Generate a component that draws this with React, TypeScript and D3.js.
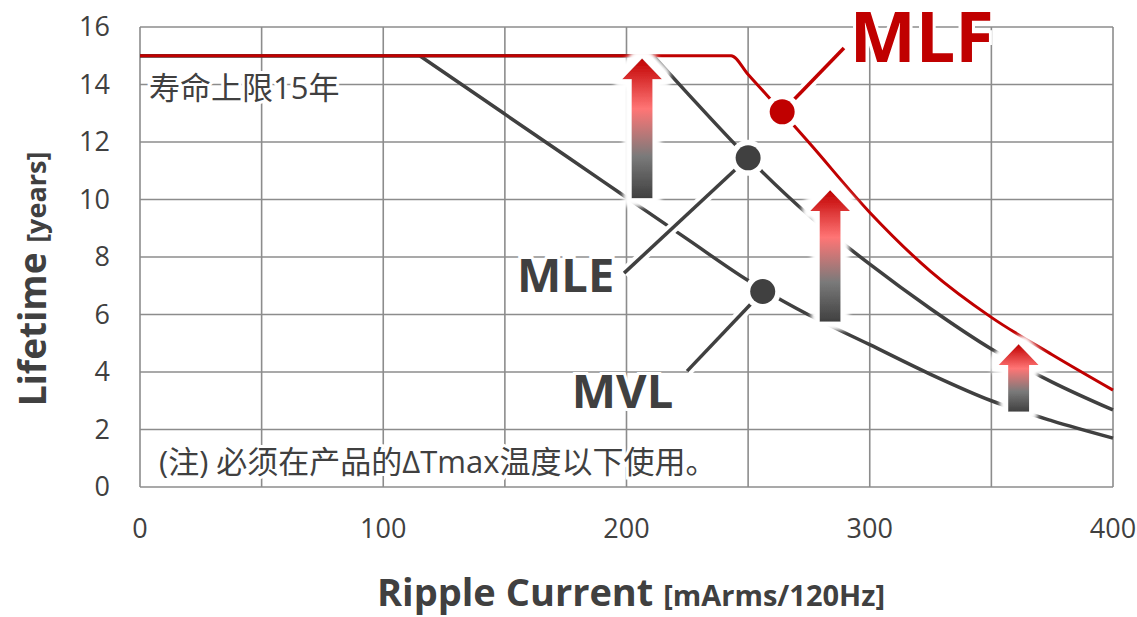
import * as d3 from "d3";

const W = 1137;
const H = 617;

// axes
const yTicks = [0, 2, 4, 6, 8, 10, 12, 14, 16];
const xTicks = [0, 100, 200, 300, 400];
const xGrid = [0, 50, 100, 150, 200, 250, 300, 350, 400];

// lifetime curves [ripple mA, years]
const mvl: [number, number][] = [
  [0, 15], [115, 15], [150, 12.97], [175, 11.52], [200, 10.07],
  [225, 8.62], [250, 7.18], [275, 5.98], [300, 4.95], [325, 3.92], [350, 3.0],
  [375, 2.3], [400, 1.7],
];
const mle: [number, number][] = [
  [0, 15], [211, 15], [225, 13.7], [250, 11.45], [275, 9.45],
  [300, 7.75], [325, 6.2], [350, 4.8], [375, 3.65], [400, 2.68],
];
const mlf: [number, number][] = [
  [0, 15], [243, 15], [250, 14.35], [275, 11.98], [300, 9.55], [325, 7.5],
  [350, 5.9], [375, 4.6], [400, 3.37],
];

// markers on curves + leader ends + labels
const callouts = [
  { name: "MLF", dot: [264, 13.05], end: [289.4, 15.27], label: [291.8, 14.78], size: 70, color: "#c00000" },
  { name: "MLE", dot: [250, 11.45], end: [199, 7.44], label: [155, 6.78], size: 47, color: "#404040" },
  { name: "MVL", dot: [256, 6.8], end: [224.9, 4.03], label: [177.5, 2.75], size: 47, color: "#404040" },
];

// improvement arrows [x, from, to]
const arrows = [
  { x: 206.4, from: 10.04, to: 14.91 },
  { x: 283.7, from: 5.75, to: 10.33 },
  { x: 361.2, from: 2.62, to: 4.97 },
];

const x = d3.scaleLinear().domain([0, 400]).range([140, 1113]);
const y = d3.scaleLinear().domain([0, 16]).range([487, 27]);

const smooth = d3
  .line<[number, number]>()
  .x((d) => x(d[0]))
  .y((d) => y(d[1]))
  .curve(d3.curveMonotoneX);

// flat cap drawn straight, then a smooth fall-off from the knee (sharp corner)
function kneePath(data: [number, number][]) {
  const k = data.findIndex((d) => d[1] < 15) - 1;
  const rest = smooth(data.slice(k)) ?? "";
  return `M${x(data[0][0])},${y(data[0][1])}` + rest.replace(/^M/, "L");
}

const latin = "'Open Sans', 'Noto Sans CJK SC', sans-serif";
const dark = "#404040";
const gridColor = "#8c8c8c";

function arrowPath(a: { x: number; from: number; to: number }) {
  const cx = x(a.x);
  const yb = y(a.from);
  const yt = y(a.to);
  const bw = 10.5, hw = 20, hh = 21;
  return `M${cx - bw},${yb}L${cx - bw},${yt + hh}L${cx - hw},${yt + hh}L${cx},${yt}L${cx + hw},${yt + hh}L${cx + bw},${yt + hh}L${cx + bw},${yb}Z`;
}

export default function App() {
  return (
    <svg
      width={W}
      height={H}
      style={{ position: "absolute", left: 0, top: 0, background: "#fff" }}
    >
      <defs>
        <linearGradient id="arrowGrad" x1="0" y1="0" x2="0" y2="1">
          <stop offset="0" stopColor="#c00000" />
          <stop offset="0.36" stopColor="#ff7575" />
          <stop offset="0.7" stopColor="#7a7a7a" />
          <stop offset="1" stopColor="#404040" />
        </linearGradient>
        <filter id="glow" x="-50%" y="-20%" width="200%" height="140%">
          <feMorphology in="SourceAlpha" operator="dilate" radius="7" result="d" />
          <feGaussianBlur in="d" stdDeviation="2.5" result="b" />
          <feFlood floodColor="#fff" />
          <feComposite in2="b" operator="in" result="w" />
          <feMerge>
            <feMergeNode in="w" />
            <feMergeNode in="w" />
            <feMergeNode in="SourceGraphic" />
          </feMerge>
        </filter>
      </defs>

      {/* grid */}
      <g stroke={gridColor} strokeWidth={1.6}>
        {yTicks.map((t) => (
          <line key={"h" + t} x1={x(0)} x2={x(400)} y1={y(t)} y2={y(t)} />
        ))}
        {xGrid.map((t) => (
          <line key={"v" + t} x1={x(t)} x2={x(t)} y1={y(0)} y2={y(16)} />
        ))}
      </g>

      {/* tick labels */}
      <g fontFamily={latin} fontSize={27} fill={dark}>
        {yTicks.map((t) => (
          <text key={"yl" + t} x={110} y={y(t)} dy="0.35em" textAnchor="end">
            {t}
          </text>
        ))}
        {xTicks.map((t) => (
          <text key={"xl" + t} x={x(t)} y={538} textAnchor="middle">
            {t}
          </text>
        ))}
      </g>

      {/* axis titles */}
      <text x={631} y={606} textAnchor="middle" fontFamily={latin} fill={dark} fontWeight="bold">
        <tspan fontSize={38}>Ripple Current </tspan>
        <tspan fontSize={29}>[mArms/120Hz]</tspan>
      </text>
      <text
        transform="translate(46,279) rotate(-90)"
        textAnchor="middle"
        fontFamily={latin}
        fill={dark}
        fontWeight="bold"
      >
        <tspan fontSize={37}>Lifetime </tspan>
        <tspan fontSize={27}>[years]</tspan>
      </text>

      {/* notes */}
      <g fontFamily={latin} fill={dark} stroke="#fff" strokeWidth={6} style={{ paintOrder: "stroke" }}>
        <text x={149} y={99} fontSize={31}>寿命上限15年</text>
        <text x={159} y={473} fontSize={31}>(注) 必须在产品的ΔTmax温度以下使用。</text>
      </g>

      {/* curves */}
      <path d={kneePath(mvl)} fill="none" stroke={dark} strokeWidth={3.5} />
      <path d={kneePath(mle)} fill="none" stroke={dark} strokeWidth={3.5} />
      <path d={smooth(mlf) ?? ""} fill="none" stroke="#c00000" strokeWidth={3} />

      {/* callouts */}
      {callouts.map((c) => (
        <g key={c.name}>
          <line
            x1={x(c.end[0])} y1={y(c.end[1])} x2={x(c.dot[0])} y2={y(c.dot[1])}
            stroke="#fff" strokeWidth={11}
          />
          <line
            x1={x(c.end[0])} y1={y(c.end[1])} x2={x(c.dot[0])} y2={y(c.dot[1])}
            stroke={c.color} strokeWidth={3.5}
          />
          <circle cx={x(c.dot[0])} cy={y(c.dot[1])} r={18} fill="#fff" />
          <circle cx={x(c.dot[0])} cy={y(c.dot[1])} r={12.5} fill={c.color} />
        </g>
      ))}

      {/* arrows */}
      {arrows.map((a, i) => (
        <path key={i} d={arrowPath(a)} fill="url(#arrowGrad)" filter="url(#glow)" />
      ))}

      {/* labels */}
      {callouts.map((c) => (
        <text
          key={"t" + c.name}
          x={x(c.label[0])}
          y={y(c.label[1])}
          fontFamily={latin}
          fontWeight="bold"
          fontSize={c.size}
          fill={c.color}
          stroke="#fff"
          strokeWidth={6}
          style={{ paintOrder: "stroke" }}
        >
          {c.name}
        </text>
      ))}
    </svg>
  );
}
